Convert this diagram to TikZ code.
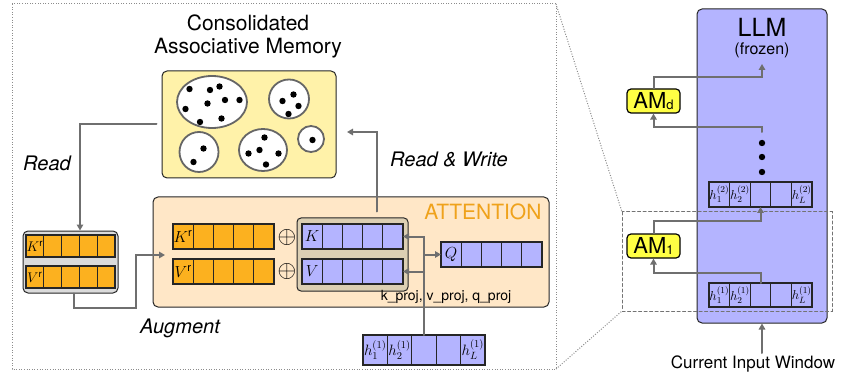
\documentclass[tikz,border=0pt]{standalone}
\usepackage{fix-cm}
\usepackage{amsmath}
\usepackage{fontspec}
\setmainfont{TeX Gyre Heros}
\usetikzlibrary{arrows.meta,positioning}

\definecolor{llmblue}{HTML}{B4B4FF}
\definecolor{kvorange}{HTML}{FCB11F}
\definecolor{attnfill}{HTML}{FFE7C7}
\definecolor{attntext}{HTML}{EFA21B}
\definecolor{memfill}{HTML}{FFF2A9}
\definecolor{amyellow}{HTML}{FFFF44}
\definecolor{kvtan}{HTML}{DCCFB3}
\definecolor{wiregray}{HTML}{6F6F6F}

\newcommand{\fsz}[1]{\fontsize{#1}{#1}\selectfont}
% five cells in a row: name, left x, centre y, cell width, height, style
\newcommand{\cellrow}[6]{%
  \foreach \i in {1,...,5}
    \node[#6, minimum width=#4pt, minimum height=#5pt] (#1-\i) at ({#2+(\i-0.5)*#4}, #3) {};
}

\begin{document}
\begin{tikzpicture}[
    x=1pt, y=-1pt, line cap=round,
    cellb/.style   ={draw=black!85, fill=llmblue, line width=1.1pt, inner sep=0pt, outer sep=0pt},
    cello/.style   ={draw=black!85, fill=kvorange, line width=1.1pt, inner sep=0pt, outer sep=0pt},
    panel/.style   ={draw=black!85, rounded corners=5pt, line width=1pt, inner sep=0pt},
    wire/.style    ={draw=wiregray, line width=2pt, -{Triangle[length=6pt,width=6.5pt]}},
    cluster/.style ={draw=black!60, fill=white, line width=1.8pt},
    ambox/.style   ={draw=black, fill=amyellow, rounded corners=4pt, line width=1.2pt,
                     minimum width=53pt, minimum height=24pt, inner sep=0pt, font=\fsz{22}},
    lbl/.style     ={font=\fsz{20}\itshape},
    cl/.style      ={font=\fsz{16}, inner sep=0pt},
    hl/.style      ={font=\fsz{15}, inner sep=0pt},
    hs/.style      ={font=\fsz{13}, inner sep=0pt},
    dots/.style    ={black!45, line width=1pt, line cap=butt, dash pattern=on 1pt off 1.6pt}
]
\useasboundingbox (0,0) rectangle (842,379);

% zoom frame and guide lines
\draw[dots] (12,4) rectangle (556,369);
\draw[dots] (556,4) -- (622,212);
\draw[dots] (556,369) -- (622,311);

% memory store
\node[font=\fsz{21}, align=center] (title) at (248,36) {Consolidated\\[2pt]Associative Memory};
\node[panel, fill=memfill, minimum width=174pt, minimum height=107pt] (mem) at (249,124.5) {};
\draw[cluster] (212,102) ellipse [x radius=35, y radius=26];
\draw[cluster] (289,99) ellipse [x radius=20, y radius=19.5];
\draw[cluster] (311,139) circle [radius=13];
\draw[cluster] (199,152) ellipse [x radius=19.5, y radius=20];
\draw[cluster] (263,150) ellipse [x radius=24, y radius=21];
\foreach \p in {(189.5,89),(210,90),(219.5,86.5),(225,100),(239.5,100),(207.5,103.5),(185.5,109),(200,122),(221.5,118.5),
                (282.5,101),(293.5,94.5),(298.5,106),(288.5,114),(312.5,140),(203.5,148.5),(193.5,162),
                (264.5,137.5),(248.5,153.5),(259.5,150),(278.5,153.5),(266,164.5)}
  \fill \p circle [radius=3.2];

% retrieved K^r / V^r
\node[panel, fill=black!14, minimum width=95pt, minimum height=62pt] (kvr) at (70.5,262) {};
\cellrow{gk}{26}{246}{17.8}{22}{cello}
\cellrow{gv}{26}{277}{17.8}{22}{cello}
\node[font=\fsz{14}, inner sep=0pt] (gklbl) at (gk-1) {$K^{\mathrm{r}}$};
\node[font=\fsz{14}, inner sep=0pt] (gvlbl) at (gv-1) {$V^{\mathrm{r}}$};

% attention block
\node[panel, fill=attnfill, minimum width=396pt, minimum height=110pt] (attn) at (351,252) {};
\node[font=\fsz{21}, text=attntext, anchor=east] (attnlbl) at (545,212) {ATTENTION};
\node[panel, fill=kvtan, rounded corners=4pt, minimum width=111pt, minimum height=73pt] (kv) at (352.5,254.5) {};
\cellrow{kra}{173}{236.5}{20.2}{25}{cello}
\cellrow{vra}{173}{271.5}{20.2}{25}{cello}
\cellrow{k}{302}{236.5}{20.2}{25}{cellb}
\cellrow{v}{302}{271.5}{20.2}{25}{cellb}
\cellrow{q}{441}{254.5}{20.2}{25}{cellb}
\node[cl] (kralbl) at (kra-1) {$K^{\mathrm{r}}$};
\node[cl] (vralbl) at (vra-1) {$V^{\mathrm{r}}$};
\node[cl] (klbl) at (k-1) {$K$};
\node[cl] (vlbl) at (v-1) {$V$};
\node[cl] (qlbl) at (q-1) {$Q$};
\node[font=\fsz{24}, inner sep=0pt] (plusk) at (287,237) {$\oplus$};
\node[font=\fsz{24}, inner sep=0pt] (plusv) at (287,271) {$\oplus$};
\node[font=\fsz{14}] (proj) at (446,297) {k\_proj, v\_proj, q\_proj};

% hidden states of layer 1
\cellrow{hl}{363}{350}{24.4}{30}{cellb}
\node[hl] (hl1) at (hl-1) {$h_1^{(1)}$};
\node[hl] (hl2) at (hl-2) {$h_2^{(1)}$};
\node[hl] (hl5) at (hl-5) {$h_L^{(1)}$};

% wires on the left
\coordinate (rwin) at (347,132);
\coordinate (augbend) at (136,308);
\coordinate (augin) at (165,255);
\draw[wire, shorten <=5pt] (mem.west) -| ([xshift=9.5pt]kvr.north);
\draw[wire, shorten <=6pt] ([xshift=24.5pt]kv.north) |- (rwin);
\draw[wire] ([xshift=3.5pt]kvr.south) |- (augbend) |- (augin);
\draw[wire] (hl-3.north) |- (k-5.east);
\draw[wire] (hl-3.north |- v-5.east) -- (v-5.east);
\draw[wire] (hl-3.north |- q-1.west) -- (q-1.west);
\node[lbl] (readlbl) at (47,163) {Read};
\node[lbl] (rwlbl) at (449,159) {Read \& Write};
\node[lbl] (auglbl) at (180,328) {Augment};

% frozen LLM
\node[panel, fill=llmblue, minimum width=130pt, minimum height=314pt] (llm) at (762,166) {};
\node[font=\fsz{25}, inner sep=0pt] (llmlbl) at (762,27) {LLM};
\node[font=\fsz{16}, inner sep=0pt] (frozen) at (762,50) {(frozen)};
\cellrow{h2r}{709}{194.5}{20.6}{25}{cellb}
\cellrow{h1r}{709}{295}{20.6}{24}{cellb}
\node[hs] (h2a) at (h2r-1) {$h_1^{(2)}$};
\node[hs] (h2b) at (h2r-2) {$h_2^{(2)}$};
\node[hs] (h2c) at (h2r-5) {$h_L^{(2)}$};
\node[hs] (h1a) at (h1r-1) {$h_1^{(1)}$};
\node[hs] (h1b) at (h1r-2) {$h_2^{(1)}$};
\node[hs] (h1c) at (h1r-5) {$h_L^{(1)}$};
\foreach \y [count=\n] in {143,157,172}
  \fill (762,\y) circle [radius=3.2];
\node[ambox] (amd) at (653.5,101) {AM{\fsz{13}\raisebox{-1.5pt}{d}}};
\node[ambox] (am1) at (653.5,246) {AM{\fsz{13}\raisebox{-1.5pt}{1}}};
\node[font=\fsz{17}] (inputlbl) at (753,364) {Current Input Window};

% layer-to-layer wires
\coordinate (dtop) at (762,132);
\coordinate (frz) at (762,64);
\coordinate (inp) at (762,353);
\draw[wire] (h1r-3.north) -- ++(0,-10) -| (am1.south);
\draw[wire] (am1.north) -- ++(0,-12) -| (h2r-3.south);
\draw[wire] (dtop) -- ++(0,-5) -| (amd.south);
\draw[wire] (amd.north) -- ++(0,-11) -| (frz);
\draw[wire] (inp) -- (llm.south);

% zoomed region on the LLM
\draw[black!55, dashed, dash pattern=on 3pt off 2.5pt, line width=1pt] (622,212) rectangle (832,311);
\end{tikzpicture}
\end{document}
